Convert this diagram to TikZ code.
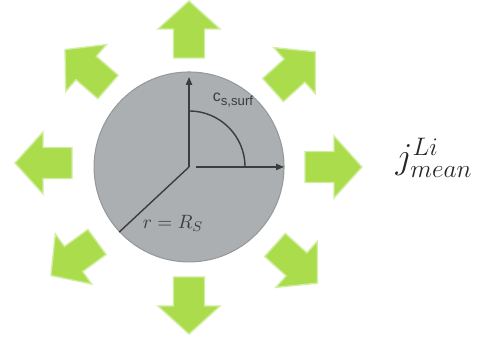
\documentclass[tikz,border=0pt]{standalone}
\usepackage{fontspec}
\usetikzlibrary{arrows.meta, calc}
\newfontfamily\arialfont{Liberation Sans}
\definecolor{LGn}{RGB}{170,220,75}
\definecolor{LGl}{RGB}{208,238,160}
\definecolor{SG}{RGB}{172,175,177}
\definecolor{SE}{RGB}{150,153,156}
\definecolor{DG}{RGB}{60,60,60}
\begin{document}
\begin{tikzpicture}[scale=0.02,
  garrow/.pic={\fill[LGn, draw=LGl, line width=0.8pt, line join=miter, scale=0.02]
    (0,-15.5)--(29,-15.5)--(29,-31)--(57,0)--(29,31)--(29,15.5)--(0,15.5)--cycle;},
  ax/.style={-{Triangle[length=4.5pt,width=3.5pt]}, line width=0.8pt, draw=DG},
  ln/.style={line width=0.8pt, draw=DG},
  lbl/.style={text=DG, inner sep=1pt}
]
\useasboundingbox (0,0) rectangle (479,341);
\coordinate (O) at (189,174);
\node[circle, draw=SE, fill=SG, line width=0.6pt, minimum size=3.8cm] (particle) at (O) {};

% flux arrows
\pic[rotate=0]   at (305,174) {garrow};
\pic[rotate=42]  at (273,251) {garrow};
\pic[rotate=90]  at (189,283) {garrow};
\pic[rotate=139] at (108,254) {garrow};
\pic[rotate=180] at (72,178)  {garrow};
\pic[rotate=216] at (97,99)   {garrow};
\pic[rotate=270] at (189,64)  {garrow};
\pic[rotate=318] at (275,96)  {garrow};

% axes
\coordinate (ztop) at (189,264);
\coordinate (xst)  at (196,174);
\coordinate (xend) at (284,174);
\draw[ax] (O) -- (ztop);
\draw[ax] (xst) -- (xend);
\draw[ln] ($(O)+(0,56)$) arc[start angle=90, end angle=0, radius=56];
\draw[ln] (O) -- (particle.223);

\node[lbl] (csurf) at (233,241)
  {\arialfont\fontsize{9}{10}\selectfont c\raisebox{-2.2pt}{\fontsize{7.5}{8}\selectfont s,surf}};
\node[lbl, font=\fontsize{11}{13}\selectfont] (rRs) at (173,118) {$r = R_S$};
\node[text=black!85, font=\fontsize{22}{26}\selectfont] (jLi) at (434,183) {$j^{Li}_{mean}$};
\end{tikzpicture}
\end{document}
